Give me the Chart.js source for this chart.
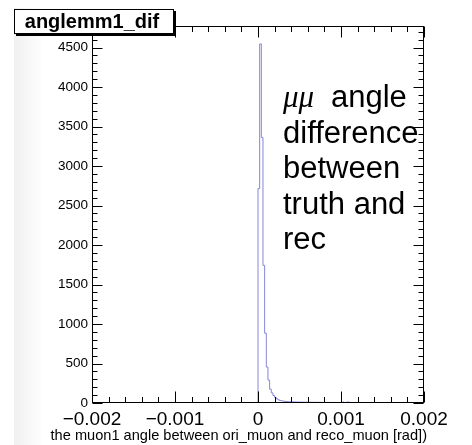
<!DOCTYPE html>
<html>
<head>
<meta charset="utf-8">
<script src="https://cdn.jsdelivr.net/npm/chart.js@4/dist/chart.umd.min.js"></script>
<style>
  html, body { margin: 0; padding: 0; background: #fff; }
  #c { display: block; }
</style>
</head>
<body>
<canvas id="c" width="472" height="445"></canvas>
<script>
// anglemm1_dif: muon1 angle difference between truth and reconstruction
const histName = 'anglemm1_dif';
const xTitle = 'the muon1 angle between ori_muon and reco_muon [rad])';
const xRange = [-0.002, 0.002];
const binWidth = 0.00002;          // 200 bins over the x range
const firstBinLow = 0;              // counts below start at this edge; everything else is empty
const counts = [
  2715, 4545, 3360, 1742, 884, 455, 290, 175, 128, 95,
  70, 52, 40, 32, 27, 23, 20, 18, 16, 15,
  14, 13, 13, 12, 12, 11, 11, 10, 10, 10,
  9, 10, 9, 9, 8, 9, 8, 8, 8, 7,
  8, 7, 7, 6, 7, 6, 6, 5, 6, 5,
  9, 12, 6, 10, 13, 4, 3, 2, 3, 2,
  1, 2, 1, 1, 0, 1
];
const xTicks = [-0.002, -0.001, 0, 0.001, 0.002];
const xTickLabels = ['\u22120.002', '\u22120.001', '0', '0.001', '0.002'];
const yTicks = [0, 500, 1000, 1500, 2000, 2500, 3000, 3500, 4000, 4500];
const yTickLabels = yTicks.map(String);
const noteLines = ['angle', 'difference', 'between', 'truth and', 'rec'];
const noteSymbol = '\u03bc\u03bc';

// histogram outline points at bin low edges (step-before interpolation)
const points = [{ x: xRange[0], y: 0 }];
counts.forEach((c, i) => points.push({ x: firstBinLow + i * binWidth, y: c }));
points.push({ x: firstBinLow + counts.length * binWidth, y: 0 });
points.push({ x: xRange[1], y: 0 });

const yMax = Math.max(...counts) * 1.05;

const frameAndText = {
  id: 'frameAndText',
  beforeDraw(chart) {
    const ctx = chart.ctx;
    ctx.save();
    ctx.fillStyle = '#fff';
    ctx.fillRect(0, 0, chart.width, chart.height);
    const g = ctx.createLinearGradient(14, 0, 44, 0);
    g.addColorStop(0, 'rgba(0,0,0,0.06)');
    g.addColorStop(1, 'rgba(0,0,0,0)');
    ctx.fillStyle = g;
    ctx.fillRect(14, 8, 30, chart.height - 8);
    ctx.restore();
  },
  afterDatasetsDraw(chart) {
    const ctx = chart.ctx;
    const xs = chart.scales.x, ys = chart.scales.y;
    const a = chart.chartArea;
    const L = Math.round(a.left) + 0.5, R = Math.round(a.right) - 0.5;
    const T = Math.round(a.top) + 0.5, B = Math.round(a.bottom) - 0.5;
    ctx.save();
    ctx.strokeStyle = '#000';
    ctx.lineWidth = 1;
    ctx.strokeRect(L, T, R - L, B - T);

    // x ticks (bottom and top), major every tick value, 5 subdivisions
    ctx.beginPath();
    for (let i = 0; i < xTicks.length; i++) {
      const px = Math.round(xs.getPixelForValue(xTicks[i])) + 0.5;
      ctx.moveTo(px, B); ctx.lineTo(px, B - 11);
      ctx.moveTo(px, T); ctx.lineTo(px, T + 11);
      if (i < xTicks.length - 1) {
        const step = (xTicks[i + 1] - xTicks[i]) / 5;
        for (let k = 1; k < 5; k++) {
          const mx = Math.round(xs.getPixelForValue(xTicks[i] + k * step)) + 0.5;
          ctx.moveTo(mx, B); ctx.lineTo(mx, B - 5.5);
          ctx.moveTo(mx, T); ctx.lineTo(mx, T + 5.5);
        }
      }
    }
    // y ticks (left and right), 5 subdivisions, continuing above the last label
    const yMajor = yTicks[1] - yTicks[0];
    const yStep = yMajor / 5;
    for (let v = 0; v <= yMax; v += yStep) {
      const py = Math.round(ys.getPixelForValue(v)) + 0.5;
      const major = Math.abs(v / yMajor - Math.round(v / yMajor)) < 1e-6;
      const len = major ? 10 : 5;
      ctx.moveTo(L, py); ctx.lineTo(L + len, py);
      ctx.moveTo(R, py); ctx.lineTo(R - len, py);
    }
    ctx.stroke();

    // tick labels
    ctx.fillStyle = '#000';
    ctx.font = '13.5px "Liberation Sans", Arial, sans-serif';
    ctx.textAlign = 'right';
    ctx.textBaseline = 'middle';
    yTicks.forEach((v, i) => ctx.fillText(yTickLabels[i], a.left - 4, ys.getPixelForValue(v)));

    ctx.font = '19px "Liberation Sans", Arial, sans-serif';
    ctx.textAlign = 'center';
    ctx.textBaseline = 'alphabetic';
    xTicks.forEach((v, i) => ctx.fillText(xTickLabels[i], xs.getPixelForValue(v), 425));

    ctx.font = '14.6px "Liberation Sans", Arial, sans-serif';
    ctx.textAlign = 'right';
    ctx.fillText(xTitle, 427, 440);

    // annotation text
    ctx.textAlign = 'left';
    ctx.font = 'italic 31px "Liberation Serif", "DejaVu Serif", serif';
    ctx.fillText(noteSymbol, 283, 107);
    ctx.font = '31px "Liberation Sans", Arial, sans-serif';
    ctx.fillText(noteLines[0], 331, 107);
    for (let i = 1; i < noteLines.length; i++) {
      ctx.fillText(noteLines[i], 283, 107 + i * 35.5);
    }

    // title box with shadow
    ctx.fillStyle = '#000';
    ctx.fillRect(16, 11, 160, 25);
    ctx.fillStyle = '#fff';
    ctx.fillRect(14, 9, 160, 25);
    ctx.strokeRect(14.5, 9.5, 159, 24);
    ctx.fillStyle = '#000';
    ctx.font = 'bold 20px "Liberation Sans", Arial, sans-serif';
    ctx.textAlign = 'center';
    ctx.textBaseline = 'middle';
    ctx.fillText(histName, 92, 22);
    ctx.restore();
  }
};

new Chart(document.getElementById('c'), {
  type: 'line',
  data: {
    datasets: [{
      data: points,
      stepped: true,
      borderColor: '#8585da',
      borderWidth: 1,
      pointRadius: 0,
      fill: false,
      tension: 0
    }]
  },
  options: {
    responsive: false,
    animation: false,
    events: [],
    layout: { padding: { left: 92, right: 48, top: 26, bottom: 42 } },
    plugins: { legend: { display: false }, tooltip: { enabled: false }, title: { display: false } },
    scales: {
      x: { type: 'linear', min: xRange[0], max: xRange[1], display: false },
      y: { type: 'linear', min: 0, max: yMax, display: false }
    }
  },
  plugins: [frameAndText]
});
</script>
</body>
</html>
